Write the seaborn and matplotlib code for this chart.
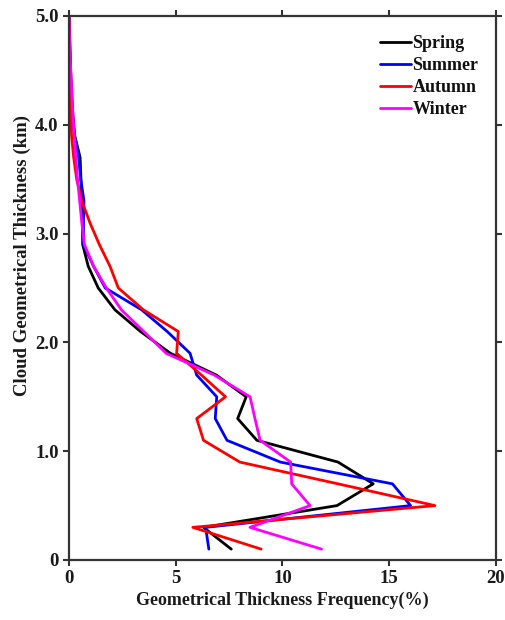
import numpy as np
import pandas as pd
import matplotlib
matplotlib.use("Agg")
import matplotlib.pyplot as plt
import seaborn as sns

heights = [0.1, 0.3, 0.5, 0.7, 0.9, 1.1, 1.3, 1.5, 1.7, 1.9, 2.1, 2.3, 2.5,
           2.7, 2.9, 3.1, 3.3, 3.5, 3.7, 3.9, 4.1, 4.3, 4.5, 4.7, 4.9, 5.0]
spring = [7.6, 6.3, 12.55, 14.25, 12.6, 8.8, 7.9, 8.3, 6.9, 4.75, 3.35, 2.15, 1.37,
          0.9, 0.64, 0.63, 0.6, 0.56, 0.52, 0.27, 0.18, 0.12, 0.08, 0.05, 0.02, 0.0]
summer = [6.55, 6.4, 16.0, 15.15, 9.9, 7.4, 6.85, 6.92, 5.98, 5.67, 4.6, 3.4, 1.7,
          1.15, 0.67, 0.68, 0.7, 0.55, 0.45, 0.25, 0.15, 0.1, 0.06, 0.03, 0.01, 0.0]
autumn = [9.0, 5.8, 17.14, 12.6, 8.0, 6.3, 5.98, 7.33, 6.2, 5.04, 5.12, 3.48, 2.31,
          1.92, 1.42, 0.98, 0.6, 0.36, 0.22, 0.12, 0.08, 0.05, 0.03, 0.02, 0.01, 0.0]
winter = [11.83, 8.48, 11.29, 10.43, 10.38, 8.95, 8.71, 8.48, 6.8, 4.55, 3.5, 2.45, 1.75,
          1.15, 0.72, 0.6, 0.5, 0.4, 0.32, 0.25, 0.18, 0.13, 0.08, 0.04, 0.01, 0.0]
seasons = ["Spring", "Summer", "Autumn", "Winter"]
colors = ["#000000", "#0000ff", "#ff0000", "#ff00ff"]
xticks = [0, 5, 10, 15, 20]
yticks = [0, 1.0, 2.0, 3.0, 4.0, 5.0]
ytick_labels = ["0", "1.0", "2.0", "3.0", "4.0", "5.0"]

frames = []
for name, vals in zip(seasons, [spring, summer, autumn, winter]):
    frames.append(pd.DataFrame({"height": heights, "freq": vals, "season": name}))
df = pd.concat(frames, ignore_index=True)

sns.set_style("ticks")
plt.rcParams["font.family"] = ["Liberation Serif", "DejaVu Serif"]
plt.rcParams["font.weight"] = "bold"

fig = plt.figure(figsize=(5.06, 6.20), dpi=100)
ax = fig.add_axes([69 / 506, 1 - 560 / 620, (496 - 69) / 506, (560 - 16) / 620])

sns.lineplot(data=df, x="freq", y="height", hue="season", hue_order=seasons,
             palette=dict(zip(seasons, colors)), sort=False, orient="y",
             estimator=None, linewidth=2.0, ax=ax)

ax.set_xlim(0, 20)
ax.set_ylim(0, 5.0)
ax.set_xticks(xticks)
ax.set_xticklabels([str(t) for t in xticks])
ax.set_yticks(yticks)
ax.set_yticklabels(ytick_labels)
ax.tick_params(direction="out", length=4, width=1.5, labelsize=13.5,
               top=True, right=True, colors="#333333", labelcolor="#1a1a1a")
for lab in ax.get_xticklabels() + ax.get_yticklabels():
    lab.set_fontweight("bold")
for sp in ax.spines.values():
    sp.set_visible(True)
    sp.set_linewidth(1.6)
    sp.set_color("#333333")

ax.set_xlabel("Geometrical Thickness Frequency(%)", fontsize=13, fontweight="bold",
              color="#1a1a1a", labelpad=3)
ax.set_ylabel("Cloud Geometrical Thickness (km)", fontsize=13.5, fontweight="bold",
              color="#1a1a1a")
ax.yaxis.set_label_coords(-0.09, 0.56)

leg = ax.legend(loc="upper right", frameon=False, fontsize=13,
                handlelength=1.7, handletextpad=0.1, labelspacing=0.28,
                bbox_to_anchor=(0.997, 0.995))
for t in leg.get_texts():
    t.set_fontweight("bold")
    t.set_color("#111111")
for l in leg.get_lines():
    l.set_linewidth(2.0)

fig.savefig("out.png", dpi=100)
